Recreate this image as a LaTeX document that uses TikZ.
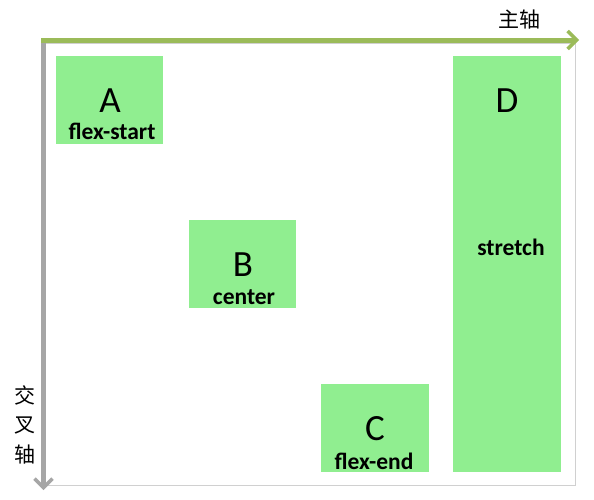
\documentclass[tikz,border=0pt]{standalone}
\usepackage{fontspec}
\setmainfont{Carlito}
\newfontfamily\cjk{Noto Sans CJK SC}
\usetikzlibrary{arrows.meta}
\definecolor{boxgreen}{HTML}{90EE90}
\definecolor{axisgreen}{HTML}{9BBB59}
\definecolor{axisgray}{HTML}{A6A6A6}
\definecolor{framegray}{HTML}{D0D0D0}
\begin{document}
\begin{tikzpicture}[x=1pt,y=-1pt,
  item/.style={fill=boxgreen,draw=none,inner sep=0pt},
  letter/.style={font=\fontsize{37}{37}\selectfont,inner sep=0pt},
  sub/.style={font=\fontsize{23.5}{23.5}\selectfont\bfseries,inner sep=0pt},
  axislbl/.style={font=\cjk\fontsize{21}{21}\selectfont,inner sep=0pt}]
\useasboundingbox (0,0) rectangle (594,499);
\fill[white] (0,0) rectangle (594,499);
% container frame
\node[draw=framegray,line width=1.5pt,minimum width=532pt,minimum height=442pt,inner sep=0pt] (frame) at (309.5,264.5) {};
% items
\node[item,minimum width=107pt,minimum height=88pt] (A) at (109.5,100) {};
\node[item,minimum width=107pt,minimum height=88pt] (B) at (242.5,264) {};
\node[item,minimum width=108pt,minimum height=88pt] (C) at (375,428) {};
\node[item,minimum width=108pt,minimum height=416pt] (D) at (507,264) {};
% labels
\node[letter] (la) at (110,101) {A};
\node[sub] (sa) at (112,131) {flex-start};
\node[letter] (lb) at (243,265) {B};
\node[sub] (sb) at (244,297) {center};
\node[letter] (lc) at (375,429) {C};
\node[sub] (sc) at (374,461) {flex-end};
\node[letter] (ld) at (507,101) {D};
\node[sub] (sd) at (511,247) {stretch};
% axes
\coordinate (mx) at (579,40);
\coordinate (my) at (43.5,490);
\draw[axisgray,line width=5pt,-{Straight Barb[length=9pt,width=18pt,line width=3.5pt]}] (43.5,38) -- (my);
\draw[axisgreen,line width=5pt,-{Straight Barb[length=9pt,width=18pt,line width=3.5pt]}] (41,40) -- (mx);
\node[axislbl] (main) at (519,20) {主轴};
\node[axislbl] (c1) at (25,395) {交};
\node[axislbl] (c2) at (25,425) {叉};
\node[axislbl] (c3) at (25,455) {轴};
\end{tikzpicture}
\end{document}
